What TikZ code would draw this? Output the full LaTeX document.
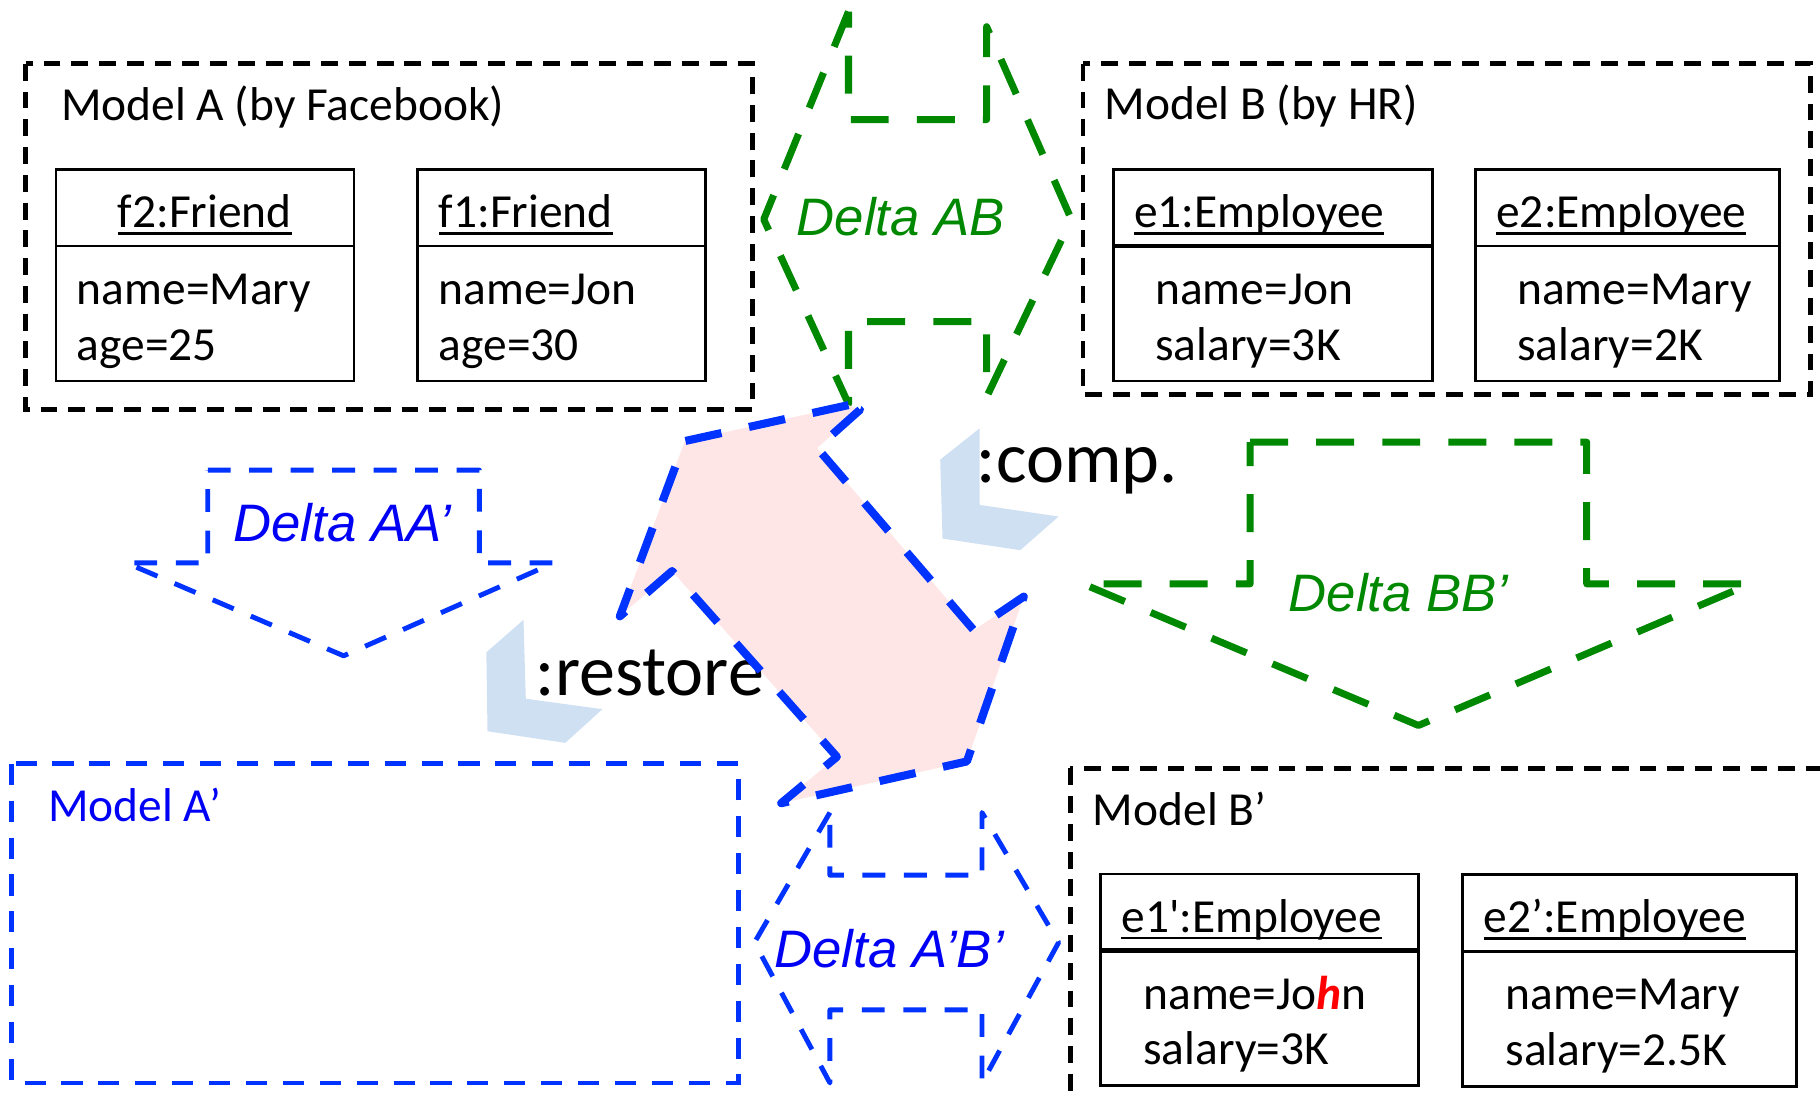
\documentclass[tikz,border=0pt]{standalone}
\usepackage{fontspec}
\setmainfont{Carlito}
\newfontfamily\deltafont{Liberation Sans}
\usetikzlibrary{positioning}
\hfuzz=30pt
\definecolor{deltagreen}{RGB}{0,136,0}
\definecolor{deltablue}{RGB}{0,51,255}
\definecolor{labelblue}{RGB}{0,0,245}
\definecolor{arrowpink}{RGB}{255,230,230}
\definecolor{cyclelight}{RGB}{207,224,242}
% object name, underlined at a fixed depth
\newcommand{\objname}[1]{\setbox0\hbox{#1}\rlap{\rule[-2.1pt]{\wd0}{0.75pt}}\box0}
\tikzset{
  modelbox/.style={
    draw=black, line width=1.4pt, dash pattern=on 4.8pt off 3.1pt
  },
  newmodelbox/.style={
    draw=deltablue, line width=1.3pt, dash pattern=on 6pt off 4.5pt
  },
  modeltitle/.style={
    anchor=base west, inner sep=0pt, font=\fontsize{13.5}{16}\selectfont
  },
  objhead/.style={
    rectangle, draw, line width=0.75pt, outer sep=0pt,
    text width=#1, inner xsep=2.1mm, inner ysep=0.5mm, align=left,
    text height=3.95mm, text depth=0pt,
    minimum height=7.66mm, font=\fontsize{13.5}{16}\selectfont
  },
  objbody/.style 2 args={
    rectangle, draw, line width=0.75pt, outer sep=0pt,
    text width=#1, inner xsep=#2, inner ysep=1pt, align=left,
    minimum height=13.5mm, font=\fontsize{13.5}{15.8}\selectfont,
    execute at begin node={\rule{0pt}{13pt}}
  },
  divider/.style={line width=1.3pt},
  greendelta/.style={
    draw=deltagreen, line width=2pt, dash pattern=on 10.8pt off 8pt,
    line join=round
  },
  bluedelta/.style={
    draw=deltablue, line width=1.4pt, dash pattern=on 6.5pt off 5.3pt,
    line join=round
  },
  deltalabel/.style={
    font=\deltafont\itshape\fontsize{15}{18}\selectfont
  },
  opbadge/.style={fill=cyclelight, draw=none},
  oplabel/.style={
    anchor=base west, inner sep=0pt, font=\fontsize{20.5}{24}\selectfont
  },
  syncarrow/.style={
    draw=deltablue, line width=2.3pt, dash pattern=on 10.5pt off 8pt,
    line join=round
  },
}

\begin{document}
\begin{tikzpicture}[x=0.11607mm, y=-0.11607mm]
  \useasboundingbox (0,0) rectangle (1568,944);
  \clip (0,0) rectangle (1568,944);

  % ── model A ───────────────────────────────────────────────────────────────
  \draw[modelbox] (22,55) rectangle (648,353);
  \node[modeltitle] (titleA) at (52,104) {Model A (by Facebook)};
  \node[objhead=25.6mm, align=center] (f2head) at (176.5,179) {\objname{f2:Friend}};
  \node[objbody={25.6mm}{2.1mm}, below=0pt of f2head] (f2body) {name=Mary\\age=25};
  \node[objhead=24.6mm] (f1head) at (484,179) {\objname{f1:Friend}};
  \node[objbody={24.6mm}{2.1mm}, below=0pt of f1head] (f1body) {name=Jon\\age=30};

  % ── model B ───────────────────────────────────────────────────────────────
  \draw[modelbox] (933,55) rectangle (1560,340);
  \node[modeltitle] (titleB) at (951,103) {Model B (by HR)};
  \node[objhead=27.7mm] (e1head) at (1096.5,179) {\objname{e1:Employee}};
  \node[objbody={23.5mm}{4.2mm}, below=0pt of e1head] (e1body) {name=Jon\\salary=3K};
  \draw[divider] (e1head.south west) -- (e1head.south east);
  \node[objhead=26.2mm] (e2head) at (1402,179) {\objname{e2:Employee}};
  \node[objbody={22mm}{4.2mm}, below=0pt of e2head] (e2body) {name=Mary\\salary=2K};

  % ── model A' ──────────────────────────────────────────────────────────────
  \draw[newmodelbox] (10,658) rectangle (636,933);
  \node[modeltitle, text=labelblue] (titleAp) at (41,708) {Model A’};

  % ── model B' ──────────────────────────────────────────────────────────────
  \draw[modelbox] (922,662) rectangle (1600,990);
  \node[modeltitle] (titleBp) at (941,711) {Model B’};
  \node[objhead=27.6mm] (e1phead) at (1085,786) {\objname{e1\textquotesingle:Employee}};
  \node[objbody={23.2mm}{4.3mm}, below=0pt of e1phead] (e1pbody)
    {name=Jo{\color{red}\bfseries\itshape h}n\\salary=3K};
  \draw[divider] (e1phead.south west) -- (e1phead.south east);
  \node[objhead=29.2mm] (e2phead) at (1404,786.5) {\objname{e2’:Employee}};
  \node[objbody={24.8mm}{4.3mm}, below=0pt of e2phead] (e2pbody) {name=Mary\\salary=2.5K};

  % ── deltas ────────────────────────────────────────────────────────────────
  \draw[greendelta] (731,10) -- (658,189) -- (731,348) -- (731,277) -- (850,277)
    -- (850,342) -- (923,189) -- (850,23) -- (850,103) -- (731,103) -- cycle;
  \node[deltalabel, text=deltagreen] (deltaAB) at (776,187) {Delta AB};

  \draw[bluedelta] (179,405) -- (413,405) -- (413,485) -- (477,485) -- (296,565)
    -- (109,485) -- (179,485) -- cycle;
  \node[deltalabel, text=labelblue] (deltaAA) at (295,450) {Delta AA’};

  \draw[greendelta] (1077,381) -- (1367,381) -- (1367,503) -- (1508,503)
    -- (1222,625) -- (933,503) -- (1077,503) -- cycle;
  \node[deltalabel, text=deltagreen] (deltaBB) at (1205,511) {Delta BB’};

  \draw[bluedelta] (715,700) -- (650,812) -- (715,933) -- (715,870) -- (846,870)
    -- (846,933) -- (912,812) -- (846,700) -- (846,754) -- (715,754) -- cycle;
  \node[deltalabel, text=labelblue] (deltaApBp) at (766,817) {Delta A’B’};

  % ── operations ────────────────────────────────────────────────────────────
  \fill[opbadge] (844,369) -- (810,396) -- (812,464) -- (879,474) -- (912,445)
    -- (844,435) -- cycle;
  \fill[opbadge] (451,534) -- (419,562) -- (420,630) -- (487,640) -- (519,611)
    -- (453,602) -- cycle;

  \coordinate (s1)  at (731,349);
  \coordinate (s2)  at (590,380);
  \coordinate (s3)  at (534,531);
  \coordinate (s4)  at (579,492);
  \coordinate (s5)  at (721,652);
  \coordinate (s6)  at (673,692);
  \coordinate (s7)  at (833,656);
  \coordinate (s8)  at (882,514);
  \coordinate (s9)  at (839,543);
  \coordinate (s10) at (704,386);
  \coordinate (s11) at (741,353);
  \fill[arrowpink] (s1) -- (s2) -- (s3) -- (s4) -- (s5) -- (s6) -- (s7) -- (s8)
    -- (s9) -- (s10) -- (s11) -- cycle;

  \node[oplabel] (comp)    at (841,416) {:comp.};
  \node[oplabel] (restore) at (461,599) {:restore};

  \draw[syncarrow] (s1) -- (s2) -- (s3) -- (s4) -- (s5) -- (s6) -- (s7) -- (s8)
    -- (s9) -- (s10) -- (s11) -- cycle;

\end{tikzpicture}
\end{document}
